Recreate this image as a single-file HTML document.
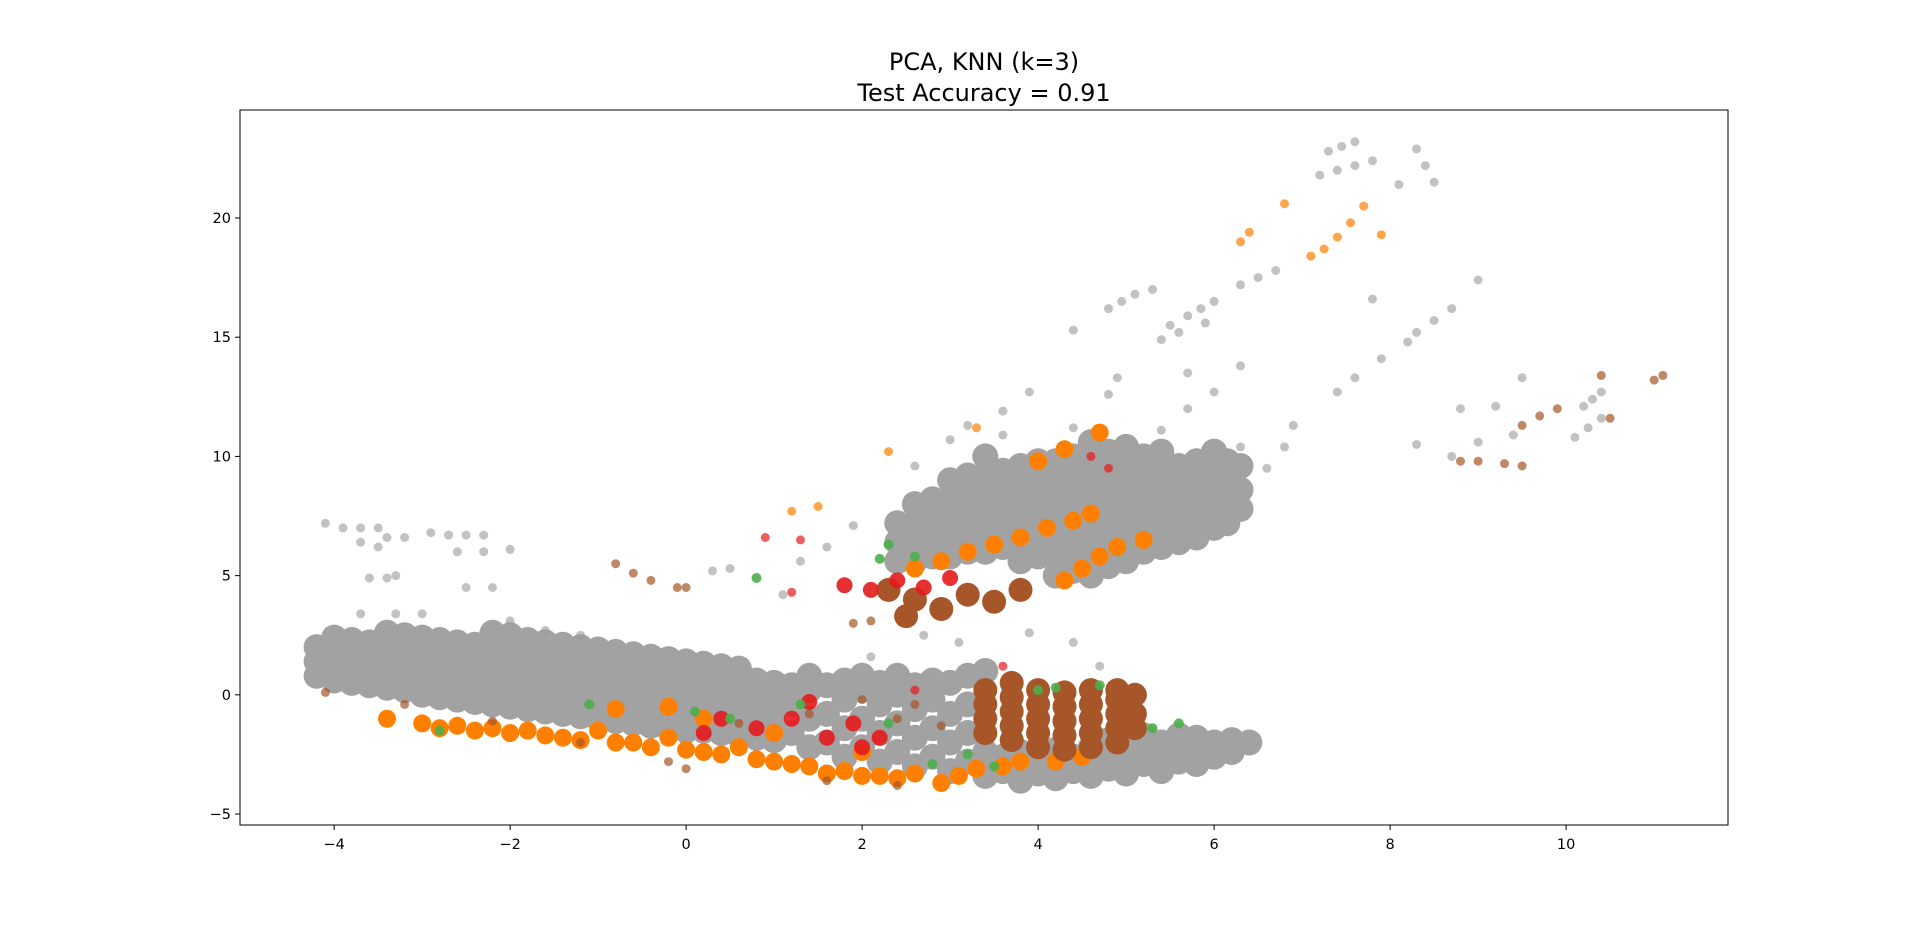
<!DOCTYPE html>
<html><head><meta charset="utf-8"><style>
html,body{margin:0;padding:0;background:#fff}
svg{display:block}
text{font-family:"DejaVu Sans","Liberation Sans",sans-serif;fill:#000}
</style></head><body>
<svg id="chart" width="1920" height="927" xmlns="http://www.w3.org/2000/svg">
<text x="984" y="70" font-size="24" text-anchor="middle">PCA, KNN (k=3)</text>
<text x="984" y="101" font-size="24" text-anchor="middle">Test Accuracy = 0.91</text>
<g id="marks"></g>
<g id="axes"></g>
</svg>
<script>
const xTicks=[-4,-2,0,2,4,6,8,10];
const yTicks=[-5,0,5,10,15,20];
const grayDense=[[-4.2,0.8],[-4.2,1.4],[-4.2,2.0],[-4,0.6],[-4,1.2],[-4,1.8],[-4,2.4],[-3.8,0.5],[-3.8,1.1],[-3.8,1.7],[-3.8,2.3],[-3.6,0.4],[-3.6,1.0],[-3.6,1.6],[-3.6,2.2],[-3.4,0.3],[-3.4,0.9],[-3.4,1.5],[-3.4,2.1],[-3.4,2.6],[-3.2,0.2],[-3.2,0.8],[-3.2,1.4],[-3.2,2.0],[-3.2,2.5],[-3,0],[-3,0.6],[-3,1.2],[-3,1.8],[-3,2.4],[-2.8,-0.1],[-2.8,0.5],[-2.8,1.1],[-2.8,1.7],[-2.8,2.3],[-2.6,-0.2],[-2.6,0.4],[-2.6,1.0],[-2.6,1.6],[-2.6,2.2],[-2.4,-0.3],[-2.4,0.3],[-2.4,0.9],[-2.4,1.5],[-2.4,2.1],[-2.2,-0.4],[-2.2,0.2],[-2.2,0.8],[-2.2,1.4],[-2.2,2.0],[-2.2,2.6],[-2,-0.5],[-2,0.1],[-2,0.7],[-2,1.3],[-2,1.9],[-2,2.5],[-1.8,-0.6],[-1.8,0],[-1.8,0.6],[-1.8,1.2],[-1.8,1.8],[-1.8,2.3],[-1.6,-0.7],[-1.6,-0.1],[-1.6,0.5],[-1.6,1.1],[-1.6,1.7],[-1.6,2.2],[-1.4,-0.8],[-1.4,-0.2],[-1.4,0.4],[-1.4,1.0],[-1.4,1.6],[-1.4,2.1],[-1.2,-0.9],[-1.2,-0.3],[-1.2,0.3],[-1.2,0.9],[-1.2,1.5],[-1.2,2.0],[-1,-1.0],[-1,-0.4],[-1,0.2],[-1,0.8],[-1,1.4],[-1,1.9],[-0.8,-1.1],[-0.8,-0.5],[-0.8,0.1],[-0.8,0.7],[-0.8,1.3],[-0.8,1.8],[-0.6,-1.2],[-0.6,-0.6],[-0.6,0],[-0.6,0.6],[-0.6,1.2],[-0.6,1.7],[-0.4,-1.3],[-0.4,-0.7],[-0.4,-0.1],[-0.4,0.5],[-0.4,1.1],[-0.4,1.6],[-0.2,-1.4],[-0.2,-0.8],[-0.2,-0.2],[-0.2,0.4],[-0.2,1.0],[-0.2,1.5],[0,-1.5],[0,-0.9],[0,-0.3],[0,0.3],[0,0.9],[0,1.4],[0.2,-1.5],[0.2,-0.9],[0.2,-0.3],[0.2,0.3],[0.2,0.9],[0.2,1.3],[0.4,-1.6],[0.4,-1.0],[0.4,-0.4],[0.4,0.2],[0.4,0.8],[0.4,1.2],[0.6,-1.7],[0.6,-1.1],[0.6,-0.5],[0.6,0.1],[0.6,0.7],[0.6,1.1],[0.8,-1.8],[0.8,-1.2],[0.8,-0.6],[0.8,0],[0.8,0.6],[1,-1.9],[1,-1.3],[1,-0.7],[1,-0.1],[1,0.5],
[1.2,-1.6],[1.2,-0.4],[1.2,0.4],[1.4,-2.2],[1.4,-1.0],[1.4,0.2],[1.4,0.8],[1.6,-2.0],[1.6,-0.8],[1.6,0.4],[1.8,-2.6],[1.8,-1.4],[1.8,-0.2],[1.8,0.6],[2.0,-2.2],[2.0,-1.0],[2.0,0.2],[2.0,0.8],[2.2,-2.8],[2.2,-1.6],[2.2,-0.4],[2.2,0.5],[2.4,-2.4],[2.4,-1.2],[2.4,0],[2.4,0.8],[2.6,-3.0],[2.6,-1.8],[2.6,-0.6],[2.6,0.4],[2.8,-2.6],[2.8,-1.4],[2.8,-0.2],[2.8,0.6],[3,-3.2],[3,-2.0],[3,-0.8],[3,0.5],[3.2,-2.8],[3.2,-1.6],[3.2,-0.4],[3.2,0.8],[3.4,-3.4],[3.4,-2.4],[3.4,1.0],[3.6,-3.2],[3.6,-2.6],
[3.8,-3.6],[3.8,-3.0],[3.8,-2.4],[4,-3.3],[4,-2.7],[4.2,-3.5],[4.2,-2.9],[4.2,-2.3],[4.4,-3.2],[4.4,-2.6],[4.6,-3.4],[4.6,-2.8],[4.6,-2.2],[4.8,-3.1],[4.8,-2.5],[4.8,-1.9],[5,-3.3],[5,-2.7],[5,-2.1],[5,-1.5],[5.2,-2.9],[5.2,-2.3],[5.2,-1.7],[5.4,-3.2],[5.4,-2.6],[5.4,-2.0],[5.6,-2.8],[5.6,-2.2],[5.6,-1.7],[5.8,-2.9],[5.8,-2.3],[5.8,-1.8],[6,-2.6],[6,-2.0],[6.2,-2.4],[6.2,-1.9],[6.4,-2.0]];
const grayUpper=[[2.4,5.6],[2.4,6.4],[2.4,7.2],[2.6,5.6],[2.6,6.4],[2.6,7.2],[2.6,8.0],[2.8,5.8],[2.8,6.6],[2.8,7.4],[2.8,8.2],[3,5.8],[3,6.6],[3,7.4],[3,8.2],[3,9.0],[3.2,6.0],[3.2,6.8],[3.2,7.6],[3.2,8.4],[3.2,9.2],[3.4,6.0],[3.4,6.8],[3.4,7.6],[3.4,8.4],[3.4,9.2],[3.4,10.0],[3.6,6.2],[3.6,7.0],[3.6,7.8],[3.6,8.6],[3.6,9.4],[3.8,5.6],[3.8,6.4],[3.8,7.2],[3.8,8.0],[3.8,8.8],[3.8,9.6],[4,5.8],[4,6.6],[4,7.4],[4,8.2],[4,9.0],[4,9.8],[4.2,5.0],[4.2,5.8],[4.2,6.6],[4.2,7.4],[4.2,8.2],[4.2,9.0],[4.2,9.8],[4.4,5.2],[4.4,6.0],[4.4,6.8],[4.4,7.6],[4.4,8.4],[4.4,9.2],[4.4,10.0],[4.6,5.0],[4.6,5.8],[4.6,6.6],[4.6,7.4],[4.6,8.2],[4.6,9.0],[4.6,9.8],[4.6,10.6],[4.8,5.4],[4.8,6.2],[4.8,7.0],[4.8,7.8],[4.8,8.6],[4.8,9.4],[4.8,10.2],[5,5.6],[5,6.4],[5,7.2],[5,8.0],[5,8.8],[5,9.6],[5,10.4],[5.2,6.0],[5.2,6.8],[5.2,7.6],[5.2,8.4],[5.2,9.2],[5.2,10.0],[5.4,6.2],[5.4,7.0],[5.4,7.8],[5.4,8.6],[5.4,9.4],[5.4,10.2],[5.6,6.4],[5.6,7.2],[5.6,8.0],[5.6,8.8],[5.6,9.6],[5.8,6.6],[5.8,7.4],[5.8,8.2],[5.8,9.0],[5.8,9.8],[6,7.0],[6,7.8],[6,8.6],[6,9.4],[6,10.2],[6.15,7.2],[6.15,8.0],[6.15,8.8],[6.15,9.8],[6.3,7.8],[6.3,8.6],[6.3,9.6]];
const orangeDense=[[-3.4,-1.0],[-3,-1.2],[-2.8,-1.4],[-2.6,-1.3],[-2.4,-1.5],[-2.2,-1.4],[-2.0,-1.6],[-1.8,-1.5],[-1.6,-1.7],[-1.4,-1.8],[-1.2,-1.9],[-1,-1.5],[-0.8,-2.0],[-0.6,-2.0],[-0.4,-2.2],[-0.2,-1.8],[0,-2.3],[0.2,-2.4],[0.4,-2.5],[0.6,-2.2],[0.8,-2.7],[1,-2.8],[1.2,-2.9],[1.4,-3.0],[1.6,-3.3],[1.8,-3.2],[2.0,-3.4],[2.2,-3.4],[2.4,-3.5],[2.6,-3.3],[2.9,-3.7],[3.1,-3.4],[3.3,-3.1],[3.6,-3.0],[3.8,-2.8],[-0.8,-0.6],[-0.2,-0.5],[0.2,-1.0],[1,-1.6],[2,-2.4],[4.5,-2.6],[4.2,-2.8],
[2.6,5.3],[2.9,5.6],[3.2,6.0],[3.5,6.3],[3.8,6.6],[4.1,7.0],[4.4,7.3],[4.6,7.6],[4.3,4.8],[4.5,5.3],[4.7,5.8],[4.9,6.2],[5.2,6.5],[4.0,9.8],[4.3,10.3],[4.7,11.0]];
const brownDense=[[3.4,-1.6],[3.4,-1.0],[3.4,-0.4],[3.4,0.2],[3.7,-1.9],[3.7,-1.3],[3.7,-0.7],[3.7,-0.1],[3.7,0.5],[4,-2.2],[4,-1.6],[4,-1.0],[4,-0.4],[4,0.2],[4.3,-2.3],[4.3,-1.7],[4.3,-1.1],[4.3,-0.5],[4.3,0.1],[4.6,-2.2],[4.6,-1.6],[4.6,-1.0],[4.6,-0.4],[4.6,0.2],[4.9,-2.0],[4.9,-1.4],[4.9,-0.8],[4.9,-0.2],[4.9,0.2],[5.1,-1.4],[5.1,-0.8],[5.1,0],
[2.6,4.0],[2.9,3.6],[3.2,4.2],[3.5,3.9],[3.8,4.4],[2.3,4.4],[2.5,3.3]];
const redDense=[[0.4,-1.0],[0.8,-1.4],[1.2,-1.0],[1.6,-1.8],[1.9,-1.2],[2.2,-1.8],[1.4,-0.3],[0.2,-1.6],[2.0,-2.2],[1.8,4.6],[2.1,4.4],[2.4,4.8],[2.7,4.5],[3.0,4.9]];
const graySparse=[[-4.1,7.2],[-3.9,7.0],[-3.7,7.0],[-3.5,7.0],[-3.4,6.6],[-3.2,6.6],[-3.7,6.4],[-3.5,6.2],[-2.9,6.8],[-2.7,6.7],[-2.5,6.7],[-2.3,6.7],[-2.6,6.0],[-2.3,6.0],[-2.0,6.1],[-3.6,4.9],[-3.4,4.9],[-3.3,5.0],[-2.5,4.5],[-2.2,4.5],[-3.7,3.4],[-3.3,3.4],[-3.0,3.4],[-2.0,3.1],[-1.6,2.7],[-1.2,2.5],[0.5,5.3],[0.3,5.2],
[7.3,22.8],[7.45,23.0],[7.6,23.2],[7.2,21.8],[7.4,22.0],[7.6,22.2],[7.8,22.4],[8.3,22.9],[8.4,22.2],[8.5,21.5],[8.1,21.4],[4.8,16.2],[4.95,16.5],[5.1,16.8],[5.3,17.0],[5.5,15.5],[5.7,15.9],[5.85,16.2],[6.0,16.5],[6.3,17.2],[6.5,17.5],[6.7,17.8],[5.4,14.9],[5.6,15.2],[5.9,15.6],[8.3,15.2],[8.5,15.7],[8.7,16.2],[9.0,17.4],[7.8,16.6],[7.6,13.3],[7.4,12.7],[7.9,14.1],[8.2,14.8],[4.4,15.3],[5.7,13.5],[6.3,13.8],[4.9,13.3],[4.8,12.6],[3.9,12.7],[3.6,11.9],
[8.3,10.5],[8.7,10.0],[8.8,12.0],[9.2,12.1],[9.5,13.3],[10.2,12.1],[10.3,12.4],[10.4,12.7],[10.1,10.8],[10.25,11.2],[10.4,11.6],[9.0,10.6],[9.4,10.9],
[6.3,10.4],[6.6,9.5],[6.8,10.4],[6.9,11.3],[5.7,12.0],[6.0,12.7],[5.4,11.1],[3.0,10.7],[3.2,11.3],[3.6,10.9],[4.4,11.2],[2.6,9.6],[1.6,6.2],[1.3,5.6],[1.9,7.1],[1.1,4.2],[2.7,2.5],[3.1,2.2],[3.9,2.6],[4.4,2.2],[4.7,1.2],[2.1,1.6]];
const orangeSparse=[[7.1,18.4],[7.25,18.7],[7.4,19.2],[7.55,19.8],[7.7,20.5],[6.8,20.6],[6.4,19.4],[6.3,19.0],[7.9,19.3],[2.3,10.2],[3.3,11.2],[1.2,7.7],[1.5,7.9]];
const brownSparse=[[8.8,9.8],[9.0,9.8],[9.3,9.7],[9.5,9.6],[9.5,11.3],[9.7,11.7],[9.9,12.0],[10.4,13.4],[10.5,11.6],[11.0,13.2],[11.1,13.4],[-0.8,5.5],[-0.6,5.1],[-0.4,4.8],[-0.1,4.5],[0,4.5],[2.0,-0.2],[2.4,-1.0],[1.4,-0.8],[0.6,-1.2],[-1.2,-2.0],[-0.2,-2.8],[0,-3.1],[1.6,-3.6],[2.4,-3.8],[-2.2,-1.1],[-3.2,-0.4],[-4.1,0.1],[2.9,-1.3],[2.6,-0.4],[1.9,3.0],[2.1,3.1]];
const redSparse=[[2.6,0.2],[3.6,1.2],[1.3,6.5],[0.9,6.6],[1.2,4.3],[4.8,9.5],[4.6,10.0]];
const greenSparse=[[-1.1,-0.4],[0.1,-0.7],[0.5,-1.0],[1.3,-0.4],[2.3,-1.2],[2.8,-2.9],[3.2,-2.5],[4.0,0.2],[4.2,0.3],[4.7,0.4],[5.3,-1.4],[5.6,-1.2],[-2.8,-1.5],[3.5,-3.0],[0.8,4.9],[2.2,5.7],[2.6,5.8],[2.3,6.3]];

const X0=240,X1=1728,Y0=110,Y1=825,xMin=-5.07,xMax=11.84,yMin=-5.46,yMax=24.53;
const sx=v=>X0+(v-xMin)/(xMax-xMin)*(X1-X0);
const sy=v=>Y1-(v-yMin)/(yMax-yMin)*(Y1-Y0);
const NS='http://www.w3.org/2000/svg';
const marks=document.getElementById('marks');
function draw(pts,color,r,op,name){
  for(const p of pts){
    const c=document.createElementNS(NS,'circle');
    c.setAttribute('cx',sx(p[0]).toFixed(1));
    c.setAttribute('cy',sy(p[1]).toFixed(1));
    c.setAttribute('r',r);
    c.setAttribute('fill',color);
    c.setAttribute('fill-opacity',op);
    
    
    marks.appendChild(c);
  }
}
draw(grayDense,'#a2a2a2',13,1,'gray-point');
draw(grayUpper,'#a2a2a2',13,1,'gray-point');
draw(orangeDense,'#ff8000',9,1,'orange-point');
draw(brownDense,'#a65628',12,1,'brown-point');
draw(redDense,'#e41a1c',8,0.9,'red-point');
draw(graySparse,'#999999',4.5,0.6,'gray-point');
draw(orangeSparse,'#ff7f00',4.5,0.7,'orange-point');
draw(brownSparse,'#a65628',4.5,0.7,'brown-point');
draw(redSparse,'#e41a1c',4.5,0.7,'red-point');
draw(greenSparse,'#4daf4a',5,0.9,'green-point');

const axes=document.getElementById('axes');
const frame=document.createElementNS(NS,'rect');
frame.setAttribute('x',X0);frame.setAttribute('y',Y0);
frame.setAttribute('width',X1-X0);frame.setAttribute('height',Y1-Y0);
frame.setAttribute('fill','none');frame.setAttribute('stroke','#000');frame.setAttribute('stroke-width','1');


axes.appendChild(frame);
for(const t of xTicks){
  const x=sx(t);
  const l=document.createElementNS(NS,'line');
  l.setAttribute('x1',x);l.setAttribute('x2',x);l.setAttribute('y1',Y1);l.setAttribute('y2',Y1+5);l.setAttribute('stroke','#000');
  
  
  axes.appendChild(l);
  const tx=document.createElementNS(NS,'text');
  tx.setAttribute('x',x);tx.setAttribute('y',Y1+24);tx.setAttribute('font-size','14.5');tx.setAttribute('text-anchor','middle');
  tx.textContent=String(t).replace('-','\u2212');
  
  
  axes.appendChild(tx);
}
for(const t of yTicks){
  const y=sy(t);
  const l=document.createElementNS(NS,'line');
  l.setAttribute('x1',X0-5);l.setAttribute('x2',X0);l.setAttribute('y1',y);l.setAttribute('y2',y);l.setAttribute('stroke','#000');
  
  
  axes.appendChild(l);
  const tx=document.createElementNS(NS,'text');
  tx.setAttribute('x',X0-9);tx.setAttribute('y',y+5);tx.setAttribute('font-size','14.5');tx.setAttribute('text-anchor','end');
  tx.textContent=String(t).replace('-','\u2212');
  
  
  axes.appendChild(tx);
}
</script>
</body></html>
